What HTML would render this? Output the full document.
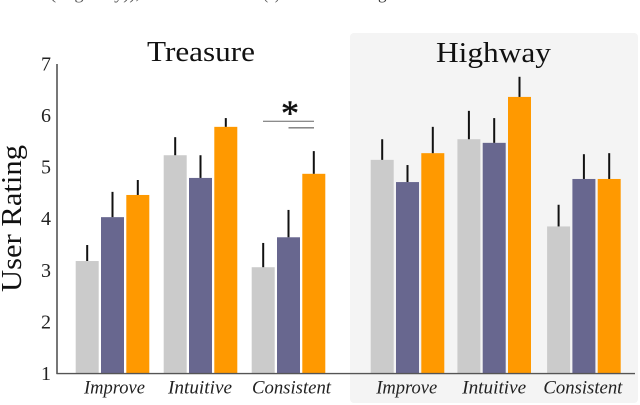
<!DOCTYPE html>
<html>
<head>
<meta charset="utf-8">
<style>
html,body{margin:0;padding:0;background:#fff;width:640px;height:405px;overflow:hidden}
svg{display:block}
text{font-family:"Liberation Serif",serif;fill:#222}
</style>
</head>
<body>
<svg id="chart" width="640" height="405" viewBox="0 0 640 405" xmlns="http://www.w3.org/2000/svg">
<text x="50" y="-1" font-size="17" textLength="90" lengthAdjust="spacingAndGlyphs" style="fill:#555">(Highway)),</text>
<text x="263" y="-1" font-size="17" textLength="17" lengthAdjust="spacingAndGlyphs" style="fill:#555">(c)</text>
<text x="378" y="-1" font-size="17" style="fill:#333">g</text>
<rect x="350" y="33" width="288" height="370" rx="4" fill="#f4f4f4"/>
<text x="201" y="61" font-size="28" text-anchor="middle" textLength="108" lengthAdjust="spacingAndGlyphs" style="fill:#111">Treasure</text>
<text x="493.5" y="62" font-size="28" text-anchor="middle" textLength="115" lengthAdjust="spacingAndGlyphs" style="fill:#111">Highway</text>
<text transform="translate(21,218.5) rotate(-90)" font-size="28" text-anchor="middle" textLength="147" lengthAdjust="spacingAndGlyphs" style="fill:#111">User Rating</text>
<g id="bars"></g>
<g id="ticks"></g>
<g id="cats"></g>
<line x1="57" y1="64" x2="57" y2="374" stroke="#555" stroke-width="1.6"/>
<line x1="56.5" y1="373.6" x2="635" y2="373.6" stroke="#555" stroke-width="1.4"/>
<line x1="263" y1="121.3" x2="314" y2="121.3" stroke="#666" stroke-width="1"/>
<line x1="288.5" y1="127.8" x2="314" y2="127.8" stroke="#777" stroke-width="1.4"/>
<text x="290" y="125" font-size="36" text-anchor="middle" stroke="#111" stroke-width="0.5" style="fill:#111">*</text>
</svg>
<script>
const panels = ["Treasure", "Highway"];
const categories = ["Improve", "Intuitive", "Consistent"];
const seriesNames = ["gray", "purple", "orange"];
const seriesColors = ["#cbcbcb", "#68678f", "#ff9900"];
const tickLabels = [1, 2, 3, 4, 5, 6, 7];

const treasureGray = [3.18, 5.23, 3.06];
const treasurePurple = [4.03, 4.79, 3.64];
const treasureOrange = [4.46, 5.78, 4.87];
const highwayGray = [5.14, 5.54, 3.85];
const highwayPurple = [4.71, 5.47, 4.77];
const highwayOrange = [5.27, 6.36, 4.77];

const treasureGrayErr = [3.49, 5.58, 3.53];
const treasurePurpleErr = [4.52, 5.23, 4.17];
const treasureOrangeErr = [4.75, 5.95, 5.31];
const highwayGrayErr = [5.54, 6.09, 4.27];
const highwayPurpleErr = [5.04, 5.95, 5.25];
const highwayOrangeErr = [5.78, 6.75, 5.27];

const values = [[treasureGray, treasurePurple, treasureOrange], [highwayGray, highwayPurple, highwayOrange]];
const errors = [[treasureGrayErr, treasurePurpleErr, treasureOrangeErr], [highwayGrayErr, highwayPurpleErr, highwayOrangeErr]];

const NS = "http://www.w3.org/2000/svg";
function yScale(v) { return 373.5 - (v - 1) * 51.6; }
function groupCenter(p, g) {
  if (p === 0) return 112.5 + g * 88;
  return 407.5 + g * 88.2 + (g === 1 ? -1.5 : 0);
}
function barCenter(p, g, s) { return groupCenter(p, g) + (s - 1) * 25.3; }
function labelCenter(p, g) {
  if (p === 0) return groupCenter(p, g) + (g === 0 ? 2 : g === 1 ? -0.5 : 3);
  return groupCenter(p, g) + (g === 0 ? -0.8 : g === 1 ? 0 : -1);
}
function labelWidth(g) { return g === 0 ? 61 : g === 1 ? 64 : 79; }
function make(tag, attrs, parent) {
  const el = document.createElementNS(NS, tag);
  for (const k in attrs) el.setAttribute(k, attrs[k]);
  parent.appendChild(el);
  return el;
}

const barsG = document.getElementById("bars");
panels.forEach(function (panel, p) {
  categories.forEach(function (cat, g) {
    seriesNames.forEach(function (sn, s) {
      const cx = barCenter(p, g, s);
      const top = yScale(values[p][s][g]);
      const bar = make("rect", { x: cx - 11.5, y: top, width: 23, height: yScale(1) - top, fill: seriesColors[s] }, barsG);
      
      
      const err = make("line", { x1: cx, x2: cx, y1: top, y2: yScale(errors[p][s][g]), stroke: "#111", "stroke-width": 2 }, barsG);
      
      
    });
  });
});

const ticksG = document.getElementById("ticks");
tickLabels.forEach(function (t) {
  const lab = make("text", { x: 46, y: yScale(t) + 6.5, "font-size": 20, "text-anchor": "middle" }, ticksG);
  lab.textContent = t;
  
  
});

const catsG = document.getElementById("cats");
panels.forEach(function (panel, p) {
  categories.forEach(function (cat, g) {
    const lab = make("text", { x: labelCenter(p, g), y: 393.5, "font-size": 18.5, "font-style": "italic", "text-anchor": "middle", textLength: labelWidth(g), lengthAdjust: "spacingAndGlyphs" }, catsG);
    lab.textContent = cat;
    
    
  });
});
</script>
</body>
</html>
